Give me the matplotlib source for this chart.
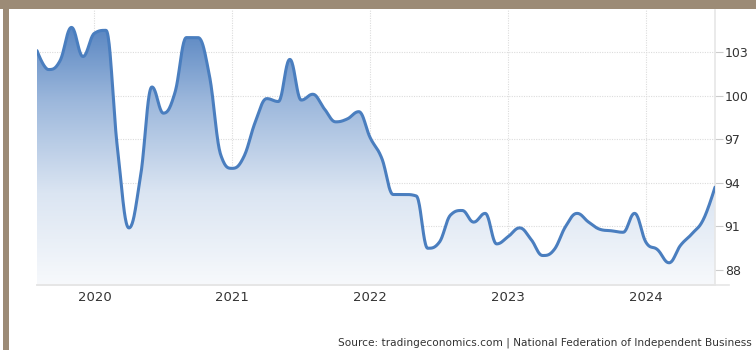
import numpy as np
import matplotlib
matplotlib.use("Agg")
import matplotlib.pyplot as plt
from matplotlib.patches import Rectangle, PathPatch
from matplotlib.path import Path
from matplotlib.colors import LinearSegmentedColormap

plt.rcParams['font.family'] = ['DejaVu Sans']

# NFIB Small Business Optimism Index, monthly, Aug 2019 - Jul 2024
start_year, start_month = 2019, 8
values = [
    103.1, 101.8, 102.4, 104.7, 102.7,                                        # 2019 Aug-Dec
    104.3, 104.5, 96.4, 90.9, 94.4, 100.6, 98.8, 100.2, 104.0, 104.0, 101.4, 95.9,  # 2020
    95.0, 95.8, 98.2, 99.8, 99.6, 102.5, 99.7, 100.1, 99.1, 98.2, 98.4, 98.9,      # 2021
    97.1, 95.7, 93.2, 93.2, 93.1, 89.5, 89.9, 91.8, 92.1, 91.3, 91.9, 89.8,        # 2022
    90.3, 90.9, 90.1, 89.0, 89.4, 91.0, 91.9, 91.3, 90.8, 90.7, 90.6, 91.9,        # 2023
    89.9, 89.4, 88.5, 89.7, 90.5, 91.5, 93.7,                                  # 2024 Jan-Jul
]
year_ticks = [2020, 2021, 2022, 2023, 2024]
value_ticks = [88, 91, 94, 97, 100, 103]
source_text = "Source: tradingeconomics.com | National Federation of Independent Business"

x = np.array([start_year + (start_month - 1 + i) / 12 for i in range(len(values))])
y = np.array(values, dtype=float)


def spline_path(xs, ys, smoothing=1.5, n=24):
    """Smooth curve through points using Highcharts-style bezier control points."""
    N = len(xs)
    lc = [None] * N
    rc = [None] * N
    denom = smoothing + 1
    for i in range(N):
        px, py = xs[i], ys[i]
        if 0 < i < N - 1:
            lx, ly = xs[i - 1], ys[i - 1]
            nx, ny = xs[i + 1], ys[i + 1]
            lcx = (smoothing * px + lx) / denom
            lcy = (smoothing * py + ly) / denom
            rcx = (smoothing * px + nx) / denom
            rcy = (smoothing * py + ny) / denom
            if rcx != lcx:
                corr = (rcy - lcy) * (rcx - px) / (rcx - lcx) + py - rcy
                lcy += corr
                rcy += corr
            if lcy > ly and lcy > py:
                lcy = max(ly, py)
                rcy = 2 * py - lcy
            elif lcy < ly and lcy < py:
                lcy = min(ly, py)
                rcy = 2 * py - lcy
            if rcy > ny and rcy > py:
                rcy = max(ny, py)
                lcy = 2 * py - rcy
            elif rcy < ny and rcy < py:
                rcy = min(ny, py)
                lcy = 2 * py - rcy
            lc[i] = (lcx, lcy)
            rc[i] = (rcx, rcy)
        else:
            lc[i] = (px, py)
            rc[i] = (px, py)
    t = np.linspace(0, 1, n)[:, None]
    pts = []
    for i in range(N - 1):
        p0 = np.array([xs[i], ys[i]])
        p1 = np.array(rc[i])
        p2 = np.array(lc[i + 1])
        p3 = np.array([xs[i + 1], ys[i + 1]])
        seg = ((1 - t) ** 3) * p0 + 3 * ((1 - t) ** 2) * t * p1 + 3 * (1 - t) * t ** 2 * p2 + t ** 3 * p3
        pts.append(seg if i == 0 else seg[1:])
    pts = np.vstack(pts)
    return pts[:, 0], pts[:, 1]


sx, sy = spline_path(x, y)

W, H = 756, 350
fig = plt.figure(figsize=(W / 100, H / 100), dpi=100)
fig.patch.set_facecolor("white")

ax_l, ax_r, ax_t, ax_b = 37, 715, 10, 285
ax = fig.add_axes([ax_l / W, 1 - ax_b / H, (ax_r - ax_l) / W, (ax_b - ax_t) / H])
ax.set_facecolor("white")

ymin, ymax = 86.97, 105.9
ax.set_xlim(x[0], x[-1])
ax.set_ylim(ymin, ymax)

# gradient area under the curve
cmap = LinearSegmentedColormap.from_list("fillgrad", ["#f7f9fc", "#dbe5f2", "#9db8dc", "#4a7bbc"])
grad = np.linspace(0, 1, 256)[:, None]
im = ax.imshow(grad, extent=[x[0], x[-1], ymin, ymax], origin="lower",
               aspect="auto", cmap=cmap, zorder=1)
verts = np.column_stack([np.r_[sx, sx[-1], sx[0]], np.r_[sy, ymin, ymin]])
clip = PathPatch(Path(verts, closed=False), facecolor="none", edgecolor="none")
ax.add_patch(clip)
im.set_clip_path(clip)

ax.plot(sx, sy, color="#4a7ebf", lw=2.2, solid_capstyle="round", zorder=3)

# grid
ax.set_xticks(year_ticks)
ax.set_yticks(value_ticks)
ax.grid(True, color="#dcdcdc", linestyle=(0, (1, 1.2)), linewidth=0.8, zorder=0)
ax.set_axisbelow(True)

for s in ["top", "left"]:
    ax.spines[s].set_visible(False)
ax.spines["right"].set_color("#e6e6e6")
ax.spines["right"].set_linewidth(1.2)
ax.spines["bottom"].set_color("#e6e6e6")
ax.spines["bottom"].set_linewidth(1.2)

ax.yaxis.tick_right()
ax.tick_params(axis="y", which="both", length=6, width=0.8, color="#cccccc",
               labelsize=9, labelcolor="#333333", pad=1)
ax.tick_params(axis="x", which="both", length=0, labelsize=9.5, labelcolor="#333333", pad=4)
ax.set_xticklabels([str(v) for v in year_ticks])
ax.set_yticklabels([str(v) for v in value_ticks])

# bottom axis line extends past the right spine
fig.add_artist(plt.Line2D([ax_l / W, 729 / W], [1 - ax_b / H, 1 - ax_b / H],
                          color="#e6e6e6", lw=1.2))

fig.text(752 / W, 1 - 343 / H, source_text, ha="right", va="center",
         fontsize=7.6, color="#333333")

# frame bands
frame = "#9c8b76"
fig.add_artist(Rectangle((0, 1 - 9 / H), 1, 9 / H, transform=fig.transFigure,
                         facecolor=frame, edgecolor="none", zorder=10))
fig.add_artist(Rectangle((3 / W, 0), 6 / W, 1, transform=fig.transFigure,
                         facecolor=frame, edgecolor="none", zorder=10))

fig.savefig("out.png", dpi=100)
